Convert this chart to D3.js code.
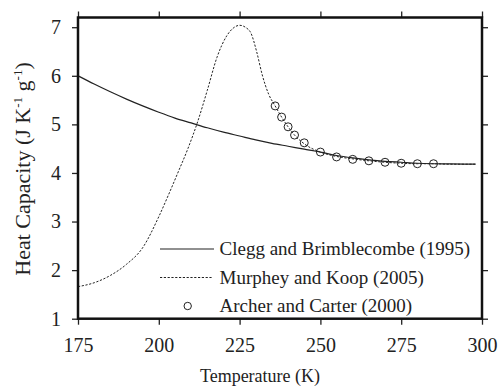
<!DOCTYPE html>
<html>
<head>
<meta charset="utf-8">
<script src="https://cdn.jsdelivr.net/npm/d3@7"></script>
<style>
  body { margin: 0; background: #fff; }
  svg { display: block; }
</style>
</head>
<body>
<div id="chart"></div>
<script>
// Clegg and Brimblecombe (1995)
const cleggT  = [175, 180, 185, 190, 195, 200, 205, 210, 215, 220, 225, 230, 235, 240, 245, 250, 255, 260, 265, 270, 275, 280, 285, 290, 298];
const cleggCp = [6.00, 5.83, 5.67, 5.52, 5.38, 5.25, 5.13, 5.03, 4.93, 4.84, 4.76, 4.68, 4.61, 4.55, 4.49, 4.43, 4.36, 4.31, 4.27, 4.24, 4.22, 4.20, 4.19, 4.185, 4.18];

// Murphey and Koop (2005)
const murphyT  = [175, 180, 185, 190, 195, 200, 203, 206, 209, 212, 215, 218, 221, 223, 225, 227, 228.5, 230.3, 232, 234, 236, 238, 240, 242, 245, 250, 255, 260, 265, 270, 275, 280, 285, 290, 298];
const murphyCp = [1.66, 1.74, 1.89, 2.12, 2.46, 3.10, 3.55, 4.02, 4.50, 5.05, 5.70, 6.38, 6.82, 6.98, 7.04, 6.99, 6.88, 6.49, 6.02, 5.62, 5.38, 5.15, 4.95, 4.78, 4.60, 4.43, 4.34, 4.29, 4.25, 4.22, 4.20, 4.19, 4.19, 4.18, 4.18];

// Archer and Carter (2000)
const archerT  = [236, 238, 240, 242, 245, 250, 255, 260, 265, 270, 275, 280, 285];
const archerCp = [5.38, 5.15, 4.95, 4.78, 4.62, 4.43, 4.33, 4.28, 4.25, 4.22, 4.20, 4.19, 4.19];

const xTicks = [175, 200, 225, 250, 275, 300];
const yTicks = [1, 2, 3, 4, 5, 6, 7];

const legendNames = ["Clegg and Brimblecombe (1995)", "Murphey and Koop (2005)", "Archer and Carter (2000)"];

const serif = "'Liberation Serif', 'Times New Roman', Times, Tinos, 'Nimbus Roman', FreeSerif, 'DejaVu Serif', serif";

const width = 499, height = 387;
const margin = {top: 17.5, right: 17, bottom: 68.3, left: 78};
const plotW = width - margin.left - margin.right;
const plotH = height - margin.top - margin.bottom;

const svg = d3.select("#chart").append("svg")
    .attr("width", width)
    .attr("height", height)
    .attr("font-family", serif);

const g = svg.append("g")
    .attr("transform", "translate(" + margin.left + "," + margin.top + ")");

const x = d3.scaleLinear().domain([175, 300]).range([0, plotW]);
const y = d3.scaleLinear().domain([1, 7.2]).range([plotH, 0]);

// axes, ticks outside on all four sides
function styleAxis(sel) {
    sel.attr("font-family", serif).attr("font-size", 20);
    sel.select(".domain").remove();
    sel.selectAll(".tick line").attr("stroke", "#222").attr("stroke-width", 1.3);
    sel.selectAll(".tick text").attr("fill", "#222");
}

g.append("g")
    .attr("transform", "translate(0," + plotH + ")")
    .call(d3.axisBottom(x).tickValues(xTicks).tickSize(6).tickPadding(13.6).tickFormat(d3.format("d")))
    .call(styleAxis);

g.append("g")
    .call(d3.axisTop(x).tickValues(xTicks).tickSize(6).tickFormat(""))
    .call(styleAxis);

g.append("g")
    .call(d3.axisLeft(y).tickValues(yTicks).tickSize(6).tickPadding(11).tickFormat(d3.format("d")))
    .call(styleAxis);

g.append("g")
    .attr("transform", "translate(" + plotW + ",0)")
    .call(d3.axisRight(y).tickValues(yTicks).tickSize(6).tickFormat(""))
    .call(styleAxis);

// curves
const line = d3.line()
    .x(d => x(d[0]))
    .y(d => y(d[1]))
    .curve(d3.curveMonotoneX);

g.append("path")
    .datum(cleggT.map((t, i) => [t, cleggCp[i]]))
    .attr("d", line)
    .attr("fill", "none")
    .attr("stroke", "#222")
    .attr("stroke-width", 1.2);

g.append("path")
    .datum(murphyT.map((t, i) => [t, murphyCp[i]]))
    .attr("d", line)
    .attr("fill", "none")
    .attr("stroke", "#222")
    .attr("stroke-width", 1)
    .attr("stroke-dasharray", "2.2,1.6");

g.selectAll(".archer")
    .data(archerT.map((t, i) => [t, archerCp[i]]))
    .enter().append("circle")
    .attr("class", "archer")
    .attr("cx", d => x(d[0]))
    .attr("cy", d => y(d[1]))
    .attr("r", 4)
    .attr("fill", "none")
    .attr("stroke", "#222")
    .attr("stroke-width", 1);

// frame
g.append("rect")
    .attr("width", plotW)
    .attr("height", plotH)
    .attr("fill", "none")
    .attr("stroke", "#111")
    .attr("stroke-width", 2.5);

// legend
const legend = svg.append("g").attr("transform", "translate(160,249)");
const rowH = 28.5;

legend.append("line")
    .attr("x1", 0).attr("x2", 54).attr("y1", 0).attr("y2", 0)
    .attr("stroke", "#222").attr("stroke-width", 1.2);
legend.append("line")
    .attr("x1", 0).attr("x2", 52).attr("y1", rowH).attr("y2", rowH)
    .attr("stroke", "#222").attr("stroke-width", 1).attr("stroke-dasharray", "2.2,1.6");
legend.append("circle")
    .attr("cx", 27.7).attr("cy", rowH * 2).attr("r", 3.7)
    .attr("fill", "none").attr("stroke", "#222").attr("stroke-width", 1);

legend.selectAll(".lt")
    .data(legendNames)
    .enter().append("text")
    .attr("class", "lt")
    .attr("x", 59.5)
    .attr("y", (d, i) => i * rowH)
    .attr("dy", "0.33em")
    .attr("font-size", 19)
    .attr("fill", "#222")
    .text(d => d);

// axis titles
svg.append("text")
    .attr("x", 260)
    .attr("y", 382)
    .attr("text-anchor", "middle")
    .attr("font-size", 18)
    .attr("fill", "#222")
    .text("Temperature (K)");

const yt = svg.append("text")
    .attr("transform", "translate(30,169) rotate(-90)")
    .attr("text-anchor", "middle")
    .attr("font-size", 22)
    .attr("fill", "#222");
yt.append("tspan").text("Heat Capacity (J K");
yt.append("tspan").attr("font-size", 13).attr("dy", -8).text("-1");
yt.append("tspan").attr("dy", 8).text(" g");
yt.append("tspan").attr("font-size", 13).attr("dy", -8).text("-1");
yt.append("tspan").attr("dy", 8).text(")");
</script>
</body>
</html>
